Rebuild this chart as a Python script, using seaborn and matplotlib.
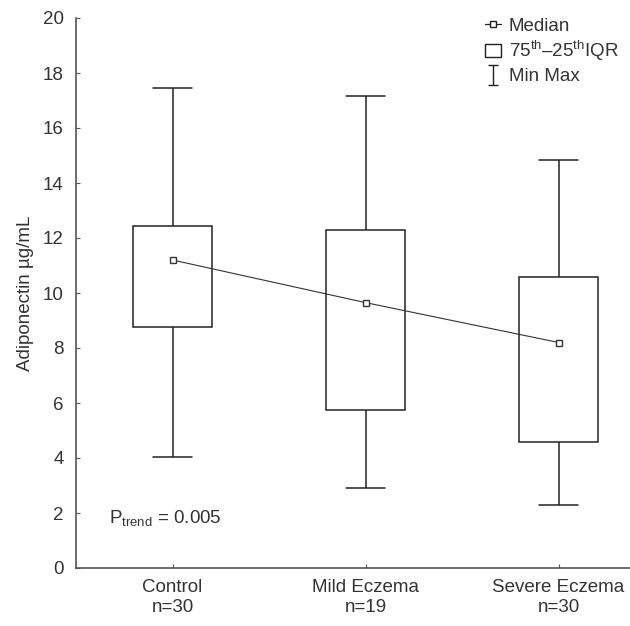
import matplotlib
matplotlib.use("Agg")
import matplotlib.pyplot as plt
from matplotlib.lines import Line2D
from matplotlib.patches import Patch
from matplotlib.path import Path
import seaborn as sns
import pandas as pd

groups = ["Control\nn=30", "Mild Eczema\nn=19", "Severe Eczema\nn=30"]
mins = [4.05, 2.9, 2.3]
q1 = [8.75, 5.75, 4.6]
medians = [11.2, 9.65, 8.2]
q3 = [12.45, 12.3, 10.6]
maxs = [17.45, 17.15, 14.85]

# five summary values per group -> box with whiskers at min/max
rows = []
for g, a, b, c, d, e in zip(groups, mins, q1, medians, q3, maxs):
    for v in (a, b, c, d, e):
        rows.append({"group": g, "value": v})
df = pd.DataFrame(rows)

sns.set_style("white")
plt.rcParams["font.family"] = ["Liberation Sans", "DejaVu Sans"]
plt.rcParams["mathtext.fontset"] = "custom"
plt.rcParams["mathtext.rm"] = "Liberation Sans"
plt.rcParams["mathtext.it"] = "Liberation Sans"

ink = "#222222"
txt = "#333333"
fs = 13.5

fig = plt.figure(figsize=(6.3, 6.26), dpi=100)
ax = fig.add_axes([76 / 630, 58 / 626, 554 / 630, 550 / 626])

sns.boxplot(data=df, x="group", y="value", order=groups, whis=(0, 100),
            width=0.41, color="white", linecolor=ink, linewidth=1.1,
            showcaps=True, ax=ax,
            medianprops={"visible": False},
            capprops={"color": ink},
            whiskerprops={"color": ink})

sns.pointplot(x=groups, y=medians, order=groups, color="#333333", markers="s",
              linewidth=0.8, markersize=5, markerfacecolor="white",
              markeredgewidth=1, ax=ax)

ax.set_xlim(-0.5, 2.37)
ax.set_ylim(0, 20)
ax.set_yticks(range(0, 21, 2))
ax.set_xlabel("")
ax.set_ylabel("Adiponectin \u00b5g/mL", fontsize=fs, color=txt, labelpad=6)
ax.tick_params(axis="both", direction="in", length=3, width=0.8,
               bottom=True, left=True,
               colors="#555555", labelcolor=txt, labelsize=fs)
ax.tick_params(axis="y", pad=9)
ax.tick_params(axis="x", pad=8)
for s in ["top", "right"]:
    ax.spines[s].set_visible(False)
for s in ["left", "bottom"]:
    ax.spines[s].set_color("#555555")
    ax.spines[s].set_linewidth(1.2)

ax.text(-0.33, 1.82, "P$_{\\rm trend}$ = 0.005", fontsize=fs, color=txt,
        va="center", ha="left")

ibar = Path([(-0.5, 1), (0.5, 1), (0, 1), (0, -1), (-0.5, -1), (0.5, -1)],
            [Path.MOVETO, Path.LINETO, Path.MOVETO, Path.LINETO,
             Path.MOVETO, Path.LINETO])
handles = [
    Line2D([0], [0], color=ink, lw=0.9, marker="s", markersize=4,
           markerfacecolor="white"),
    Patch(facecolor="white", edgecolor=ink, linewidth=1),
    Line2D([0], [0], color=ink, lw=0, marker=ibar, markersize=14,
           markerfacecolor="none", markeredgewidth=1),
]
labels = ["Median", "75$^{\\rm th}$\u201325$^{\\rm th}$IQR", "Min Max"]
leg = fig.legend(handles, labels, loc="upper left",
                 bbox_to_anchor=(477 / 630, 1 - 10 / 626), frameon=False,
                 fontsize=fs, handlelength=0.9, handletextpad=0.4,
                 labelspacing=0.25, borderaxespad=0)
for t in leg.get_texts():
    t.set_color(txt)

fig.savefig("out.png", dpi=100)
